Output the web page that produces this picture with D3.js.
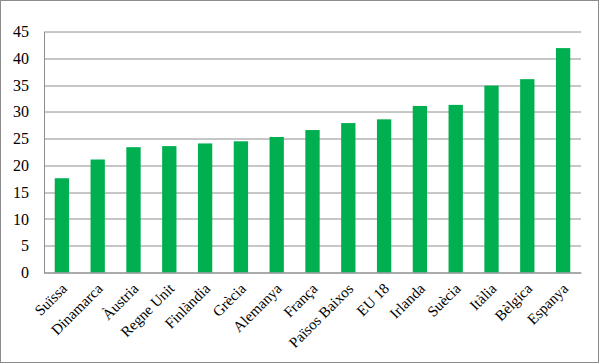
<!DOCTYPE html>
<html>
<head>
<meta charset="utf-8">
<script src="https://cdn.jsdelivr.net/npm/d3@7"></script>
<style>
  body { margin: 0; background: #fff; }
  svg { display: block; }
  text { font-family: "Liberation Serif", "Times New Roman", serif; }
</style>
</head>
<body>
<svg width="600" height="364"></svg>
<script>
// données
const pays = ["Suïssa", "Dinamarca", "Àustria", "Regne Unit", "Finlàndia", "Grècia", "Alemanya",
  "França", "Països Baixos", "EU 18", "Irlanda", "Suècia", "Itàlia", "Bèlgica", "Espanya"];
const valeurs = [17.6, 21.1, 23.4, 23.6, 24.1, 24.5, 25.3, 26.6, 27.9, 28.6, 31.1, 31.3, 34.9, 36.1, 41.9];
const ticksY = [0, 5, 10, 15, 20, 25, 30, 35, 40, 45];

const svg = d3.select("svg");
const margin = { top: 31.5, right: 19, bottom: 91.5, left: 44 },
  width = 600 - margin.left - margin.right,
  height = 364 - margin.top - margin.bottom;

// cadre extérieur
svg.append("rect")
  .attr("x", 0.5).attr("y", 0.5)
  .attr("width", 598).attr("height", 362)
  .attr("fill", "#fff")
  .attr("stroke", "#8c8c8c");

const g = svg.append("g").attr("transform", `translate(${margin.left},${margin.top})`);

const x = d3.scaleBand()
  .domain(pays)
  .range([0, width])
  .paddingInner(0.6)
  .paddingOuter(0.3);

const y = d3.scaleLinear()
  .domain([0, 45])
  .range([height, 0]);

// grille
g.append("g")
  .selectAll("line")
  .data(ticksY)
  .enter().append("line")
  .attr("x1", 0).attr("x2", width)
  .attr("y1", d => Math.round(y(d)) + 0.5)
  .attr("y2", d => Math.round(y(d)) + 0.5)
  .attr("stroke", "#8e8e8e")
  .attr("stroke-width", 1);

// barres
g.append("g")
  .selectAll("rect")
  .data(valeurs)
  .enter().append("rect")
  .attr("x", (d, i) => x(pays[i]))
  .attr("y", d => y(d))
  .attr("width", x.bandwidth())
  .attr("height", d => y(0) - y(d))
  .attr("fill", "#00b050");

// axe Y
const axeY = g.append("g")
  .attr("font-family", null)
  .call(d3.axisLeft(y).tickValues(ticksY).tickSize(0).tickPadding(15));
axeY.attr("font-family", null);
axeY.select(".domain").attr("stroke", "#8e8e8e");
axeY.selectAll("text")
  .style("font-family", "'Liberation Serif', 'Times New Roman', serif")
  .style("font-size", "16px")
  .attr("fill", "#000");

// axe X
const axeX = g.append("g")
  .attr("transform", `translate(0,${height})`)
  .call(d3.axisBottom(x).tickSize(0).tickPadding(0));
axeX.attr("font-family", null);
axeX.select(".domain").attr("stroke", "#8e8e8e");
axeX.selectAll("text")
  .style("font-family", "'Liberation Serif', 'Times New Roman', serif")
  .style("font-size", "15px")
  .attr("fill", "#000")
  .attr("dy", 0)
  .attr("transform", "translate(6,17) rotate(-45)")
  .style("text-anchor", "end");
</script>
</body>
</html>
